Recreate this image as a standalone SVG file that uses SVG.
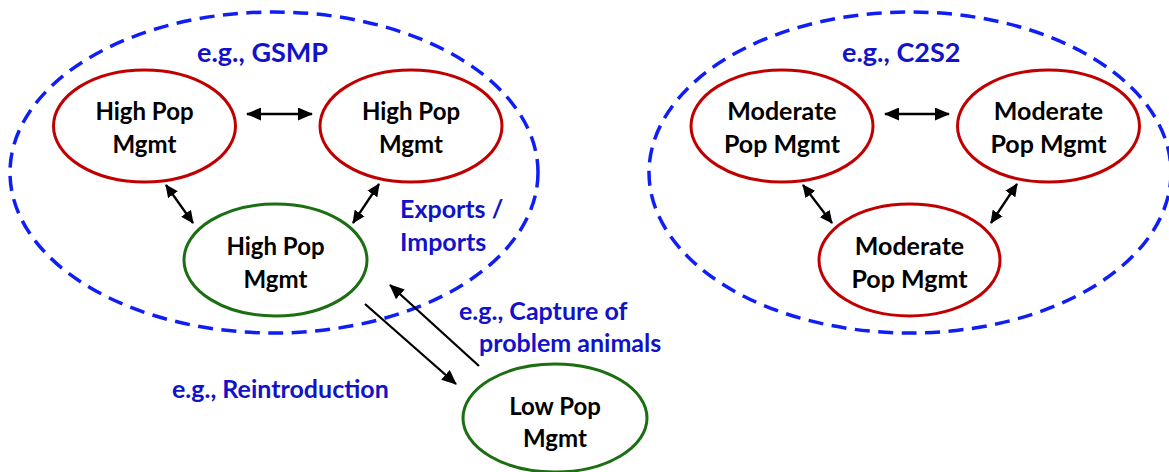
<svg xmlns="http://www.w3.org/2000/svg" width="1169" height="472" viewBox="0 0 1169 472">
<style>
.grp{fill:none;stroke:#0f1ef5;stroke-width:3.5;stroke-dasharray:15 8.5}
.red{fill:#fff;stroke:#c00000;stroke-width:3}
.grn{fill:#fff;stroke:#1b6e12;stroke-width:3}
.nt{font-family:Lato,"Liberation Sans",Arial,sans-serif;font-weight:bold;font-size:24px;fill:#000;text-anchor:middle}
.nm{font-size:25px}
.lb{font-family:Lato,"Liberation Sans",Arial,sans-serif;font-weight:bold;font-size:25px;fill:#1212c8}
.big{font-size:27px}
.ar{fill:none;stroke:#000;stroke-width:2.3}
</style>
<defs>
<marker id="ah" viewBox="0 0 15 13" refX="14" refY="6.5" markerWidth="15" markerHeight="13" markerUnits="userSpaceOnUse" orient="auto-start-reverse">
<path d="M0,0 L15,6.5 L0,13 z" fill="#000"/>
</marker>
<marker id="as" viewBox="0 0 13 12" refX="12" refY="6" markerWidth="13" markerHeight="12" markerUnits="userSpaceOnUse" orient="auto-start-reverse">
<path d="M0,0 L13,6 L0,12 z" fill="#000"/>
</marker>
</defs>
<g id="groups">
<ellipse class="grp" cx="274" cy="172.5" rx="264" ry="160.5"/>
<ellipse class="grp" cx="910" cy="172.5" rx="261" ry="160.5"/>
</g>
<g id="labels">
<text class="lb big" x="197" y="62">e.g., GSMP</text>
<text class="lb big" x="842" y="62">e.g., C2S2</text>
<text class="lb" x="400" y="218">Exports /</text>
<text class="lb" x="400" y="251">Imports</text>
<text class="lb" x="459" y="320">e.g., Capture of</text>
<text class="lb" x="479" y="352">problem animals</text>
<text class="lb" x="172" y="398">e.g., Reintroduction</text>
</g>
<g id="connectors">
<line class="ar" x1="247" y1="114" x2="312" y2="114" marker-start="url(#ah)" marker-end="url(#ah)"/>
<line class="ar" x1="166" y1="185" x2="193" y2="223" marker-start="url(#as)" marker-end="url(#as)"/>
<line class="ar" x1="379" y1="184" x2="353" y2="223" marker-start="url(#as)" marker-end="url(#as)"/>
<line class="ar" x1="885" y1="114" x2="949" y2="114" marker-start="url(#ah)" marker-end="url(#ah)"/>
<line class="ar" x1="803" y1="185" x2="832" y2="223" marker-start="url(#as)" marker-end="url(#as)"/>
<line class="ar" x1="1017" y1="184" x2="991" y2="223" marker-start="url(#as)" marker-end="url(#as)"/>
<line class="ar" x1="365" y1="304" x2="456" y2="384" marker-end="url(#ah)"/>
<line class="ar" x1="479" y1="366" x2="390" y2="285" marker-end="url(#ah)"/>
</g>
<g id="n1"><ellipse class="red" cx="144.5" cy="126" rx="91" ry="56"/><text class="nt" x="144.5" y="120">High Pop</text><text class="nt" x="144.5" y="153">Mgmt</text></g>
<g id="n2"><ellipse class="red" cx="411" cy="126" rx="91" ry="56"/><text class="nt" x="411" y="120">High Pop</text><text class="nt" x="411" y="153">Mgmt</text></g>
<g id="n3"><ellipse class="grn" cx="275.5" cy="260" rx="91.5" ry="56"/><text class="nt" x="275.5" y="255">High Pop</text><text class="nt" x="275.5" y="288">Mgmt</text></g>
<g id="n4"><ellipse class="grn" cx="555" cy="418" rx="92" ry="54"/><text class="nt" x="555" y="415">Low Pop</text><text class="nt" x="555" y="447">Mgmt</text></g>
<g id="n5"><ellipse class="red" cx="782" cy="126" rx="91" ry="56"/><text class="nt nm" x="782" y="120">Moderate</text><text class="nt nm" x="782" y="153">Pop Mgmt</text></g>
<g id="n6"><ellipse class="red" cx="1048.5" cy="126" rx="91" ry="56"/><text class="nt nm" x="1048.5" y="120">Moderate</text><text class="nt nm" x="1048.5" y="153">Pop Mgmt</text></g>
<g id="n7"><ellipse class="red" cx="909.5" cy="260" rx="90.5" ry="56"/><text class="nt nm" x="909.5" y="255">Moderate</text><text class="nt nm" x="909.5" y="288">Pop Mgmt</text></g>
</svg>
